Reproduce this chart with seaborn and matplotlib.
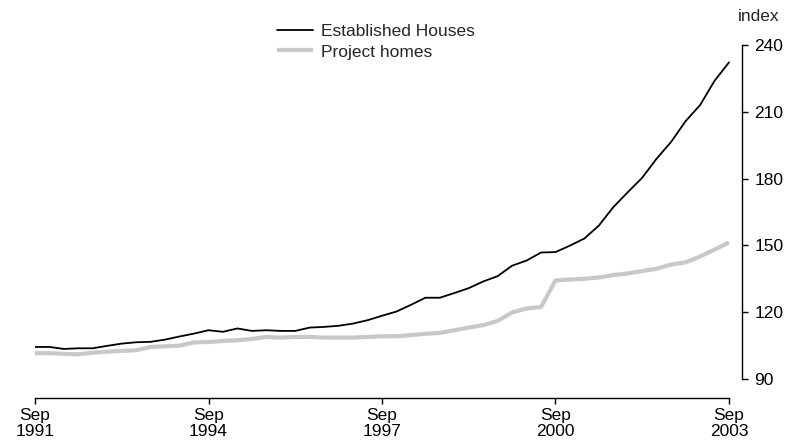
import matplotlib
matplotlib.use("Agg")
import matplotlib.pyplot as plt
import seaborn as sns
import pandas as pd
import numpy as np

# Quarterly price indexes, Sep 1991 to Sep 2003
quarters = pd.period_range("1991Q3", "2003Q3", freq="Q")
established_houses = [
    104.4, 104.4, 103.5, 103.8, 103.8, 104.9, 105.9, 106.5, 106.7, 107.7,
    109.1, 110.4, 111.9, 111.2, 112.7, 111.6, 111.9, 111.6, 111.6, 113.1,
    113.4, 113.9, 114.9, 116.4, 118.4, 120.3, 123.3, 126.5, 126.5, 128.6,
    130.8, 133.8, 136.2, 140.9, 143.2, 146.8, 147.0, 149.9, 153.1, 158.9,
    167.2, 173.9, 180.4, 189.0, 196.5, 205.8, 213.0, 223.9, 232.2,
]
project_homes = [
    101.6, 101.6, 101.3, 101.1, 101.8, 102.3, 102.6, 102.9, 104.4, 104.7,
    105.0, 106.4, 106.6, 107.1, 107.4, 108.0, 108.9, 108.6, 108.9, 108.9,
    108.6, 108.6, 108.6, 108.9, 109.2, 109.2, 109.7, 110.3, 110.7, 111.9,
    113.1, 114.2, 116.1, 119.9, 121.7, 122.3, 134.3, 134.7, 135.0, 135.6,
    136.7, 137.4, 138.5, 139.5, 141.4, 142.4, 145.0, 148.1, 151.3,
]
series_names = ["Established Houses", "Project homes"]
series_colors = ["#000000", "#c8c8c8"]
x_tick_labels = ["Sep\n1991", "Sep\n1994", "Sep\n1997", "Sep\n2000", "Sep\n2003"]
y_ticks = [90, 120, 150, 180, 210, 240]

idx = np.arange(len(quarters))
df = pd.concat([
    pd.DataFrame({"q": idx, "value": established_houses, "series": series_names[0]}),
    pd.DataFrame({"q": idx, "value": project_homes, "series": series_names[1]}),
])

sns.set_style("ticks")
plt.rcParams["font.family"] = ["Liberation Sans", "DejaVu Sans"]
FS = 12.5

fig = plt.figure(figsize=(7.92, 4.45), dpi=100)
ax = fig.add_axes([0.0442, 0.1483, 0.9365 - 0.0442, 0.8989 - 0.1483])

sns.lineplot(data=df, x="q", y="value", hue="series", hue_order=series_names,
             palette=series_colors, ax=ax, legend=False)
lines = ax.get_lines()
lines[0].set_linewidth(1.3)
lines[1].set_linewidth(3.0)
lines[1].set_zorder(1)
lines[0].set_zorder(2)
lines[1].set_solid_capstyle("butt")

ax.set_xlim(0, 48.88)
ax.set_ylim(90, 240)
ax.set_xlabel("")
ax.set_ylabel("")

for s in ["top", "left"]:
    ax.spines[s].set_visible(False)
ax.spines["bottom"].set_position(("outward", 13.5))
ax.spines["bottom"].set_bounds(0, 48)
ax.spines["right"].set_bounds(90, 240)
for s in ["bottom", "right"]:
    ax.spines[s].set_linewidth(1.0)
    ax.spines[s].set_color("black")

tick_pos = [0, 12, 24, 36, 48]
ax.set_xticks(tick_pos)
ax.set_xticklabels(x_tick_labels, fontsize=FS, linespacing=1.05)
ax.set_yticks(y_ticks)
ax.set_yticklabels([str(v) for v in y_ticks], fontsize=FS)
ax.yaxis.tick_right()
ax.tick_params(axis="y", direction="out", length=4, width=1, pad=5, colors="black")
ax.tick_params(axis="x", direction="out", length=4.5, width=1, pad=3, colors="black")

fig.text(0.932, 0.962, "index", fontsize=FS, ha="left", va="center")

handles = [plt.Line2D([], [], color=series_colors[0], lw=1.3),
           plt.Line2D([], [], color=series_colors[1], lw=3.0, solid_capstyle="butt")]
fig.legend(handles, series_names, loc="upper left",
           bbox_to_anchor=(277 / 792, 1 - 24 / 445), frameon=False, fontsize=FS,
           handlelength=2.1, handletextpad=0.45, labelspacing=0.3, borderpad=0,
           borderaxespad=0)

fig.savefig("out.png", dpi=100)
